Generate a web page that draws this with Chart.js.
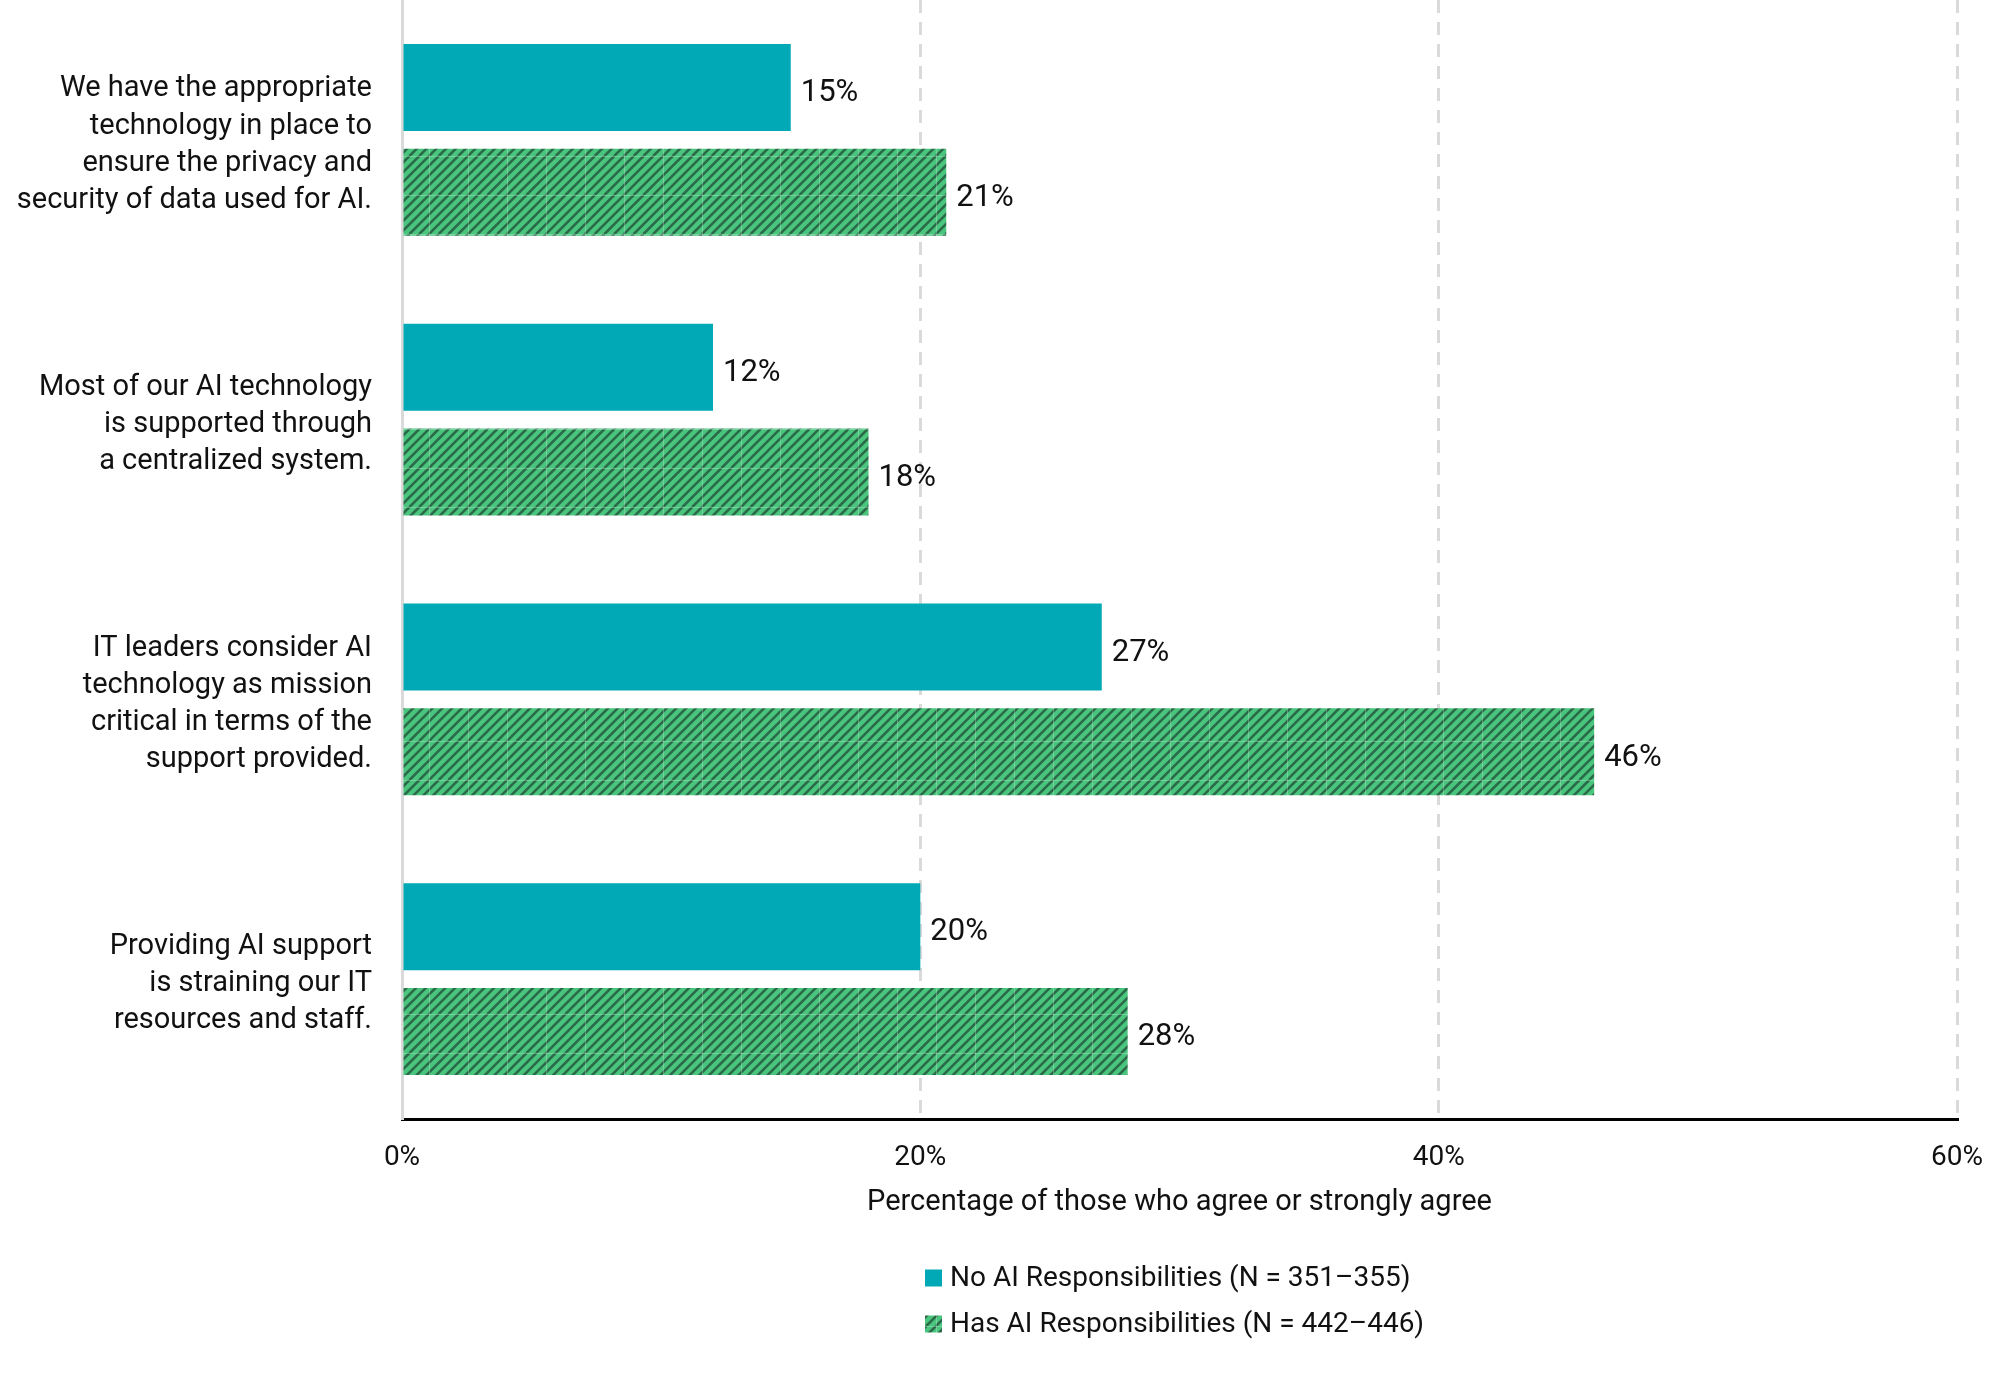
<!DOCTYPE html>
<html>
<head>
<meta charset="utf-8">
<script src="https://cdn.jsdelivr.net/npm/chart.js@4.4.1/dist/chart.umd.min.js"></script>
<style>
  html, body { margin: 0; padding: 0; background: #ffffff; }
  #wrap { width: 2000px; height: 1378px; position: relative; }
</style>
</head>
<body>
<div id="wrap"><canvas id="chart"></canvas></div>
<script>
// ---------- Data ----------
const categories = [
  ["We have the appropriate", "technology in place to", "ensure the privacy and", "security of data used for AI."],
  ["Most of our AI technology", "is supported through", "a centralized system."],
  ["IT leaders consider AI", "technology as mission", "critical in terms of the", "support provided."],
  ["Providing AI support", "is straining our IT", "resources and staff."]
];
const noAiValues = [15, 12, 27, 20];
const hasAiValues = [21, 18, 46, 28];
const seriesLabels = ["No AI Responsibilities (N = 351–355)", "Has AI Responsibilities (N = 442–446)"];
const xTickValues = [0, 20, 40, 60];
const xAxisTitle = "Percentage of those who agree or strongly agree";

// ---------- Styles ----------
const TEAL = '#00A9B5';
const GREEN = '#4AC57E';
const DARK_STRIPE = '#2B6A48';
const TEXT = '#111111';
const FONT = 'Roboto';

function makeHatch() {
  const s = 39;
  const c = document.createElement('canvas');
  c.width = s; c.height = s;
  const g = c.getContext('2d');
  g.fillStyle = GREEN;
  g.fillRect(0, 0, s, s);
  g.strokeStyle = DARK_STRIPE;
  g.lineWidth = 2.6;
  const d = s / 4;
  for (let k = -2 * s; k <= 2 * s; k += d) {
    g.beginPath();
    g.moveTo(k, s);
    g.lineTo(k + s, 0);
    g.stroke();
  }
  g.strokeStyle = 'rgba(255,255,255,0.25)';
  g.lineWidth = 1;
  g.beginPath();
  g.moveTo(0.5, 0); g.lineTo(0.5, s);
  g.moveTo(0, 0.5); g.lineTo(s, 0.5);
  g.stroke();
  const ctx = document.createElement('canvas').getContext('2d');
  return ctx.createPattern(c, 'repeat');
}
const hatch = makeHatch();

const valueLabelPlugin = {
  id: 'valueLabels',
  afterDatasetsDraw(chart) {
    const ctx = chart.ctx;
    ctx.save();
    ctx.font = '31px ' + FONT;
    ctx.fillStyle = TEXT;
    ctx.textBaseline = 'middle';
    ctx.textAlign = 'left';
    chart.data.datasets.forEach((ds, i) => {
      chart.getDatasetMeta(i).data.forEach((bar, j) => {
        ctx.fillText(ds.data[j] + '%', bar.x + 10, bar.y + 6);
      });
    });
    ctx.restore();
  }
};

const legendPlugin = {
  id: 'stackedLegend',
  afterDraw(chart) {
    const ctx = chart.ctx;
    const x0 = 925, box = 17, rowGap = 46;
    const firstRow = chart.chartArea.bottom + 159;
    ctx.save();
    ctx.font = '28px ' + FONT;
    ctx.textBaseline = 'middle';
    ctx.textAlign = 'left';
    chart.data.datasets.forEach((ds, i) => {
      const y = firstRow + i * rowGap;
      ctx.fillStyle = ds.backgroundColor;
      ctx.fillRect(x0, y - box / 2, box, box);
      ctx.fillStyle = TEXT;
      ctx.fillText(ds.label, x0 + 25, y + 1);
    });
    ctx.restore();
  }
};

Chart.defaults.font.family = FONT;
Chart.defaults.font.size = 28;
Chart.defaults.color = TEXT;

new Chart(document.getElementById('chart'), {
  type: 'bar',
  data: {
    labels: categories,
    datasets: [
      { label: seriesLabels[0], data: noAiValues, backgroundColor: TEAL, borderWidth: 0,
        categoryPercentage: 0.75, barPercentage: 0.83 },
      { label: seriesLabels[1], data: hasAiValues, backgroundColor: hatch, borderWidth: 0,
        categoryPercentage: 0.75, barPercentage: 0.83 }
    ]
  },
  options: {
    indexAxis: 'y',
    responsive: true,
    maintainAspectRatio: false,
    devicePixelRatio: 1,
    animation: false,
    layout: { padding: { left: 0, right: 43, top: 0, bottom: 158 } },
    plugins: {
      legend: { display: false },
      tooltip: { enabled: false }
    },
    scales: {
      x: {
        type: 'linear',
        min: 0, max: 60,
        afterBuildTicks(scale) { scale.ticks = xTickValues.map(v => ({ value: v })); },
        afterFit(scale) {
          scale.height = 101;
          scale.paddingLeft = 0; scale.paddingRight = 0;
        },
        ticks: {
          callback: v => v + '%',
          padding: 22,
          maxRotation: 0,
          autoSkip: false,
          font: { size: 28 },
          color: TEXT
        },
        grid: {
          display: true,
          drawTicks: false,
          lineWidth: 3,
          color: ctx => (ctx.index === 0 ? 'rgba(0,0,0,0)' : '#dadada')
        },
        border: { display: true, color: '#000000', width: 3, dash: [13, 9] },
        title: {
          display: true,
          text: xAxisTitle,
          font: { size: 29, lineHeight: 1.2 },
          color: TEXT,
          padding: { top: 0, bottom: 0 }
        }
      },
      y: {
        afterFit(scale) {
          scale.width = 402;
          scale.paddingTop = 0; scale.paddingBottom = 0;
        },
        ticks: {
          padding: 30,
          labelOffset: 5,
          font: { size: 29, lineHeight: 1.28 },
          color: TEXT,
          autoSkip: false
        },
        grid: { display: false, drawTicks: false },
        border: { display: true, color: '#dadada', width: 3 }
      }
    }
  },
  plugins: [valueLabelPlugin, legendPlugin]
});
</script>
</body>
</html>
